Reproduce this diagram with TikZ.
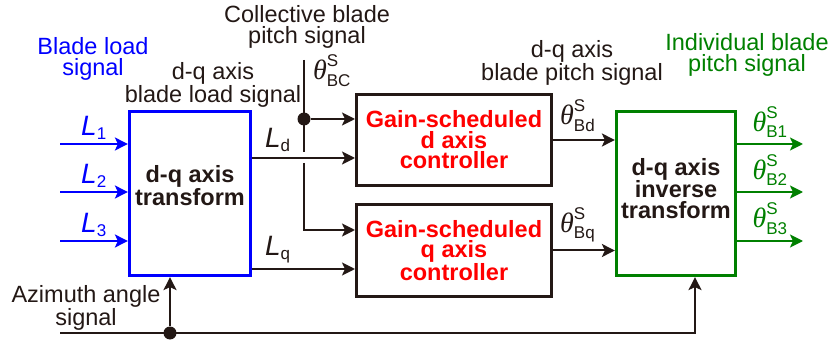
\documentclass[tikz,border=0pt]{standalone}
\usepackage{fix-cm}
\usepackage{amsmath}
\usepackage{fontspec}
\setmainfont{Liberation Sans}
\newfontfamily\gorog{Liberation Serif}
\usetikzlibrary{arrows.meta,positioning,calc}
\DeclareMathSizes{28}{28}{17}{12}
\newcommand{\nagy}{\fontsize{23.5}{20.5}\selectfont}
\newcommand{\jelmeret}{\fontsize{28}{30}\selectfont}
\newcommand{\teta}[1]{$\text{\gorog\itshape θ}^{\text{S}}_{\text{#1}}$}
\definecolor{kek}{RGB}{0,0,255}
\definecolor{piros}{RGB}{255,0,0}
\definecolor{zold}{RGB}{0,128,0}
\definecolor{fekete}{RGB}{35,24,21}
\tikzset{
  trdoboz/.style={draw,line width=3.2pt,minimum width=121pt,minimum height=164pt,inner sep=0pt,align=center,
                  font=\nagy\bfseries,text=fekete},
  szdoboz/.style={draw=fekete,line width=3pt,minimum width=195pt,minimum height=91pt,inner sep=0pt,align=center,
                  font=\nagy\bfseries,text=piros},
  jnyil/.style={-{Stealth[length=13pt,width=13pt,inset=3pt]},line width=2pt},
  vonal/.style={line width=2pt},
  pont/.style={circle,fill=fekete,inner sep=0pt,minimum size=13pt},
  felirat/.style={align=center,inner sep=0pt,font=\nagy},
  jel/.style={inner sep=0pt,font=\jelmeret},
}

\begin{document}
\begin{tikzpicture}[x=1pt,y=-1pt,fekete]
  \useasboundingbox (0,0) rectangle (831,342);
  % blocks
  \node[trdoboz,draw=kek] (tr) at (190,193.5) {d-q axis\\transform\\[-4pt]};
  \node[szdoboz] (gd) at (454,140) {Gain-scheduled\\d axis\\controller};
  \node[szdoboz] (gq) at (454,250.5) {Gain-scheduled\\q axis\\controller};
  \node[trdoboz,draw=zold,minimum width=119pt] (inv) at (676,193.5) {d-q axis\\inverse\\transform\\[-10pt]};
  % inputs and outputs
  \foreach \i/\y in {1/144,2/192,3/241}{
    \coordinate (be\i) at (60,\y);
    \coordinate (ki\i) at (803,\y);
    \draw[jnyil,kek] (be\i) -- node[jel,above=3pt] (l\i) {\textit{L}$_{\text{\i}}$} (be\i -| tr.west);
    \draw[jnyil,zold] (ki\i -| inv.east) -- node[jel,above=5pt] (t\i) {\teta{B\i}} (ki\i);
  }
  % d-q signals
  \coordinate (ld) at ($(gd.west)+(0,18)$);
  \coordinate (lq) at ($(gq.west)+(0,18.5)$);
  \draw[jnyil] (ld -| tr.east) -- node[jel,above=5pt,pos=0.25] (lldd) {\textit{L}$_{\text{d}}$} (ld);
  \draw[jnyil] (lq -| tr.east) -- node[jel,above=5pt,pos=0.25] (llqq) {\textit{L}$_{\text{q}}$} (lq);
  \draw[jnyil] (gd.east) -- node[jel,above=7pt,pos=0.4] (tbd) {\teta{Bd}} (gd.east -| inv.west);
  \draw[jnyil] (gq.east) -- node[jel,above=7pt,pos=0.4] (tbq) {\teta{Bq}} (gq.east -| inv.west);
  % collective pitch
  \coordinate (kol) at (304,60);
  \coordinate (cd) at ($(gd.west)+(0,-21)$);
  \coordinate (cq) at ($(gq.west)+(0,-20.5)$);
  \node[pont] (p1) at (kol |- cd) {};
  \draw[vonal] (kol) -- ($(kol |- ld)+(0,-6)$);
  \draw[jnyil] ($(kol |- ld)+(0,5)$) |- (cq);
  \draw[jnyil] (p1) -- (cd);
  \node[jel] (tbc) at (332,71) {\teta{BC}};
  % azimuth
  \coordinate (az) at (60,333);
  \coordinate (azt) at ($(tr.south)+(-20,0)$);
  \coordinate (azi) at ($(inv.south)+(19,0)$);
  \node[pont] (p2) at (azt |- az) {};
  \draw[jnyil] (az) -| (azi);
  \draw[jnyil] (p2) -- (azt);
  % texts
  \node[felirat,kek] (blf) at (93,59) {Blade load\\signal};
  \node[felirat] (dqf) at (213,85) {d-q axis\\blade load signal};
  \node[felirat] (kolf) at (307,27) {Collective blade\\pitch signal};
  \node[felirat] (dqpf) at (572,63) {d-q axis\\blade pitch signal};
  \node[felirat,zold] (ibf) at (747,55) {Individual blade\\pitch signal};
  \node[felirat] (azf) at (86,308) {Azimuth angle\\signal};
\end{tikzpicture}
\end{document}
